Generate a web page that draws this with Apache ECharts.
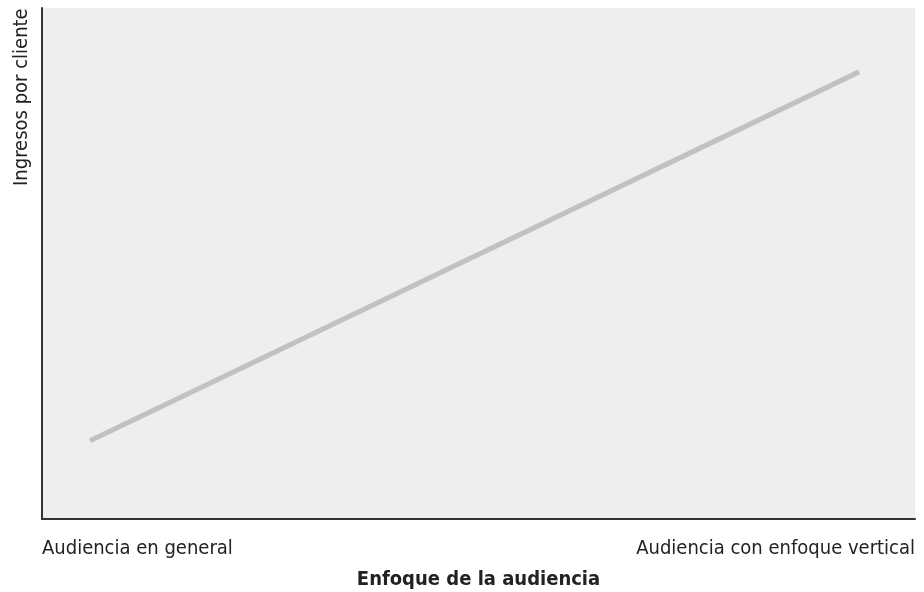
<!DOCTYPE html>
<html><head><meta charset="utf-8">
<script src="https://cdn.jsdelivr.net/npm/echarts@6/dist/echarts.min.js"></script>
<style>html,body{margin:0;padding:0;background:#fff}#c{width:924px;height:592px}</style>
</head><body><div id="c"></div>
<script>
// Data
const xTickLabels = ["Audiencia en general", "Audiencia con enfoque vertical"];
const xValues = [5.5, 93.6];
const yValues = [15.3, 87.5];
const xTitle = "Enfoque de la audiencia";
const yTitle = "Ingresos por cliente";

const FONT = '"Liberation Sans Narrow", "DejaVu Sans Condensed", "Roboto Condensed", sans-serif';
const chart = echarts.init(document.getElementById('c'), null, {renderer: 'canvas'});
chart.setOption({
  animation: false,
  grid: {left: 42, right: 9, top: 8, bottom: 73, show: true, backgroundColor: '#eeeeee', borderWidth: 0,
         containLabel: false, outerBoundsMode: 'none'},
  xAxis: {
    type: 'value', min: 0, max: 100, interval: 100,
    splitLine: {show: false}, axisTick: {show: false},
    axisLine: {lineStyle: {color: '#333', width: 2}},
    axisLabel: {
      fontFamily: FONT, fontSize: 20, color: '#222', margin: 20,
      formatter: v => v === 0 ? xTickLabels[0] : (v === 100 ? xTickLabels[1] : ''),
      alignMinLabel: 'left', alignMaxLabel: 'right'
    },
    name: xTitle, nameLocation: 'middle', nameGap: 51,
    nameTextStyle: {fontFamily: FONT, fontSize: 20, fontWeight: 'bold', color: '#222'}
  },
  yAxis: {
    type: 'value', min: 0, max: 100,
    splitLine: {show: false}, axisTick: {show: false}, axisLabel: {show: false},
    axisLine: {show: true, lineStyle: {color: '#333', width: 2}},
    name: yTitle, nameLocation: 'end', nameRotate: 90, nameGap: -178,
    nameTextStyle: {fontFamily: FONT, fontSize: 20, color: '#222', verticalAlign: 'bottom', padding: [0, 0, 10, 0]}
  },
  series: [{
    type: 'line', data: xValues.map((x, i) => [x, yValues[i]]),
    showSymbol: false, lineStyle: {color: '#c1c1c5', width: 5, cap: 'butt'}
  }]
});
</script></body></html>
